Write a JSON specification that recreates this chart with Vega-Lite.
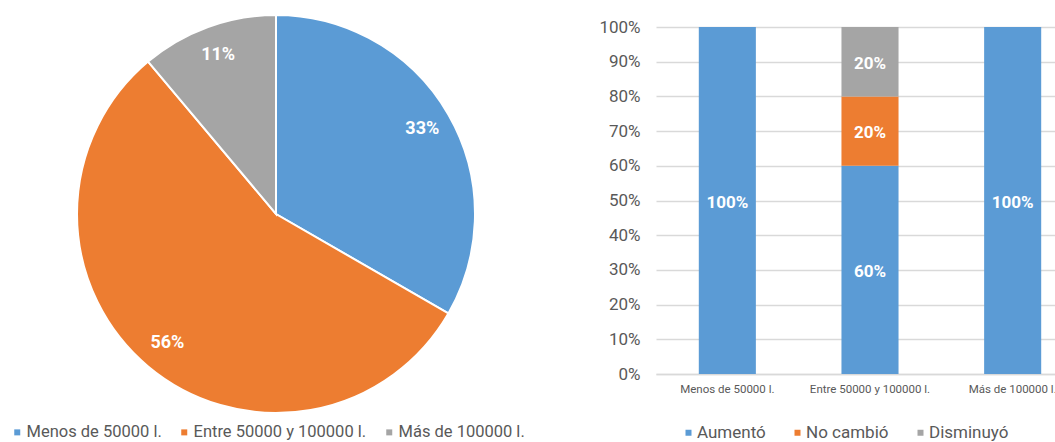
{
  "$schema": "https://vega.github.io/schema/vega-lite/v6.json",
  "padding": {"left": 9, "top": 11, "right": 0, "bottom": 0},
  "background": "white",
  "config": {
    "view": {"stroke": null},
    "font": "Roboto"
  },
  "bounds": "flush",
  "spacing": 116,
  "resolve": {"scale": {"color": "independent"}, "legend": {"color": "independent"}},
  "hconcat": [
    {
      "width": 528,
      "height": 374,
      "data": {"values": [
        {"cat": "Menos de 50000 l.", "p": 0.3333, "o": 1},
        {"cat": "Entre 50000 y 100000 l.", "p": 0.5556, "o": 2},
        {"cat": "Más de 100000 l.", "p": 0.1111, "o": 3}
      ]},
      "encoding": {
        "theta": {"field": "p", "type": "quantitative", "stack": true},
        "order": {"field": "o", "type": "quantitative"}
      },
      "layer": [
        {
          "mark": {"type": "arc", "radius": 199, "stroke": "white", "strokeWidth": 2},
          "encoding": {
            "color": {
              "field": "cat", "type": "nominal",
              "scale": {"domain": ["Menos de 50000 l.", "Entre 50000 y 100000 l.", "Más de 100000 l."], "range": ["#5B9BD5", "#ED7D31", "#A5A5A5"]},
              "legend": {
                "title": null, "orient": "none", "direction": "horizontal",
                "legendX": -3, "legendY": 397,
                "symbolType": "square", "symbolSize": 36, "symbolStrokeWidth": 0,
                "labelFontSize": 16.5, "labelColor": "#595959", "labelFont": "Roboto",
                "labelOffset": 1, "columnPadding": 14, "labelLimit": 400
              }
            }
          }
        },
        {
          "mark": {"type": "text", "radius": 169, "color": "white", "fontWeight": "bold", "fontSize": 18, "font": "Roboto"},
          "encoding": {
            "text": {"field": "p", "type": "quantitative", "format": ".0%"}
          }
        }
      ]
    },
    {
      "width": 428,
      "height": 347,
      "data": {"values": [
        {"cat": "Menos de 50000 l.", "s": "Aumentó", "v": 1.0, "o": 1},
        {"cat": "Entre 50000 y 100000 l.", "s": "Aumentó", "v": 0.6, "o": 1},
        {"cat": "Entre 50000 y 100000 l.", "s": "No cambió", "v": 0.2, "o": 2},
        {"cat": "Entre 50000 y 100000 l.", "s": "Disminuyó", "v": 0.2, "o": 3},
        {"cat": "Más de 100000 l.", "s": "Aumentó", "v": 1.0, "o": 1}
      ]},
      "encoding": {
        "x": {
          "field": "cat", "type": "nominal",
          "sort": ["Menos de 50000 l.", "Entre 50000 y 100000 l.", "Más de 100000 l."],
          "scale": {"paddingInner": 0.6, "paddingOuter": 0.3},
          "axis": {
            "title": null, "labelAngle": 0, "ticks": false, "domainColor": "#D9D9D9", "domainWidth": 1.5,
            "labelFontSize": 11.5, "labelColor": "#595959", "labelFont": "Roboto", "labelPadding": 9, "labelLimit": 300
          }
        },
        "order": {"field": "o", "type": "quantitative"}
      },
      "layer": [
        {
          "mark": {"type": "bar"},
          "encoding": {
            "y": {
              "field": "v", "type": "quantitative", "stack": "normalize",
              "scale": {"domain": [0, 1]},
              "axis": {
                "title": null, "format": ".0%", "values": [0, 0.1, 0.2, 0.3, 0.4, 0.5, 0.6, 0.7, 0.8, 0.9, 1],
                "labelOverlap": false, "domain": false, "ticks": false, "gridColor": "#D9D9D9", "gridWidth": 1.5,
                "labelFontSize": 17, "labelColor": "#595959", "labelFont": "Roboto", "labelPadding": 16
              }
            },
            "color": {
              "field": "s", "type": "nominal",
              "scale": {"domain": ["Aumentó", "No cambió", "Disminuyó"], "range": ["#5B9BD5", "#ED7D31", "#A5A5A5"]},
              "legend": {
                "title": null, "orient": "none", "direction": "horizontal",
                "legendX": 24, "legendY": 397,
                "symbolType": "square", "symbolSize": 36, "symbolStrokeWidth": 0,
                "labelFontSize": 17, "labelColor": "#595959", "labelFont": "Roboto",
                "labelOffset": 0, "columnPadding": 23, "labelLimit": 400
              }
            }
          }
        },
        {
          "mark": {"type": "text", "color": "white", "fontWeight": "bold", "fontSize": 17, "font": "Roboto", "dy": 2},
          "encoding": {
            "y": {
              "field": "v", "type": "quantitative", "stack": "normalize", "bandPosition": 0.5,
              "axis": {
                "title": null, "format": ".0%", "values": [0, 0.1, 0.2, 0.3, 0.4, 0.5, 0.6, 0.7, 0.8, 0.9, 1],
                "labelOverlap": false, "domain": false, "ticks": false, "gridColor": "#D9D9D9", "gridWidth": 1.5,
                "labelFontSize": 17, "labelColor": "#595959", "labelFont": "Roboto", "labelPadding": 16
              }
            },
            "text": {"field": "v", "type": "quantitative", "format": ".0%"}
          }
        }
      ]
    }
  ]
}
